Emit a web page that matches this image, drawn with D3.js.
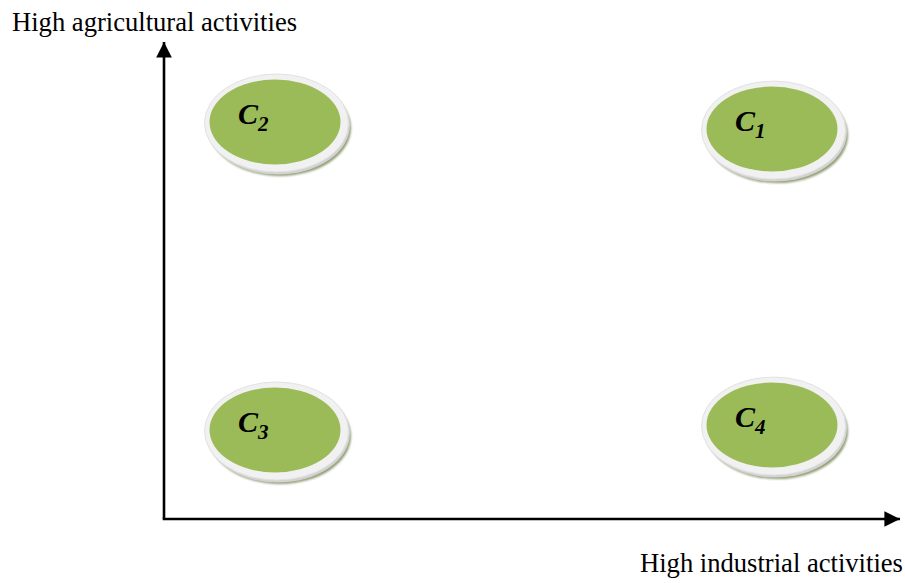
<!DOCTYPE html>
<html><head><meta charset="utf-8">
<script src="https://cdn.jsdelivr.net/npm/d3@7"></script>
<style>body{margin:0;background:#fff}svg{display:block}</style>
</head><body>
<svg id="c" width="905" height="583"></svg>
<script>
const clusters = ["C", "C", "C", "C"];
const subscripts = ["1", "2", "3", "4"];
const industrial = [1, 0, 0, 1];
const agricultural = [0.977, 1, 0, 0.016];
const axisLabels = ["High industrial activities", "High agricultural activities"];

const svg = d3.select("#c");
const x = d3.scaleLinear().domain([0, 1]).range([275, 772]);
const y = d3.scaleLinear().domain([0, 1]).range([430, 122]);

const ox = 164, oy = 519;
const defs = svg.append("defs");
defs.append("marker").attr("id", "arr").attr("viewBox", "0 0 10 10")
  .attr("refX", 10).attr("refY", 5).attr("markerWidth", 6).attr("markerHeight", 6)
  .attr("markerUnits", "strokeWidth").attr("orient", "auto")
  .append("path").attr("d", "M0,0 L10,5 L0,10 Z").attr("fill", "#000");
defs.append("filter").attr("id", "blur").append("feGaussianBlur").attr("stdDeviation", 1.2);

svg.append("line").attr("x1", ox).attr("y1", oy).attr("x2", ox).attr("y2", 42)
  .attr("stroke", "#000").attr("stroke-width", 2.6).attr("marker-end", "url(#arr)");
svg.append("line").attr("x1", ox - 1.3).attr("y1", oy).attr("x2", 900).attr("y2", oy)
  .attr("stroke", "#000").attr("stroke-width", 2.6).attr("marker-end", "url(#arr)");

svg.append("text").attr("x", 12).attr("y", 31).attr("font-family", "Liberation Serif")
  .attr("font-size", 26.6).attr("fill", "#000").text(axisLabels[1]);
svg.append("text").attr("x", 640).attr("y", 572).attr("font-family", "Liberation Serif")
  .attr("font-size", 26.6).attr("fill", "#000").text(axisLabels[0]);

const data = clusters.map((c, i) => ({c, s: subscripts[i], xi: industrial[i], ya: agricultural[i]}));
const g = svg.selectAll("g.cl").data(data).join("g").attr("class", "cl")
  .attr("transform", d => `translate(${x(d.xi)},${y(d.ya)})`);

g.append("ellipse").attr("cx", 5).attr("cy", 6).attr("rx", 71).attr("ry", 48)
  .attr("fill", "#7d8c5a").attr("filter", "url(#blur)").attr("opacity", 0.85);
g.append("ellipse").attr("cx", 3).attr("cy", 3).attr("rx", 72).attr("ry", 49.5)
  .attr("fill", "#d2d2d2");
g.append("ellipse").attr("cx", 1.5).attr("cy", 1).attr("rx", 72).attr("ry", 49)
  .attr("fill", "#f1f1f1").attr("stroke", "#e2e2e2").attr("stroke-width", 1);
g.append("ellipse").attr("cx", 0).attr("cy", 0).attr("rx", 65.5).attr("ry", 42.5)
  .attr("fill", "#9bbb59");

const t = g.append("text").attr("x", -37).attr("y", 2)
  .attr("font-family", "Liberation Serif").attr("font-weight", "bold").attr("font-style", "italic")
  .attr("font-size", 30).attr("fill", "#000");
t.append("tspan").text(d => d.c);
t.append("tspan").attr("dy", 7).attr("font-size", 21).text(d => d.s);
</script>
</body></html>
